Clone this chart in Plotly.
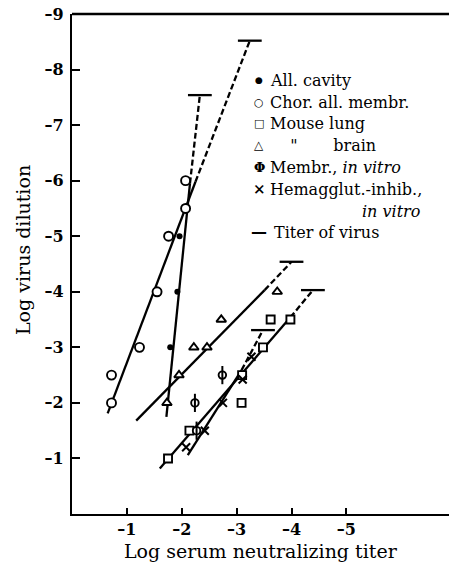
import plotly.graph_objects as go

# ---------------- data ----------------
all_cavity_x = [-1.79, -1.92, -1.96]
all_cavity_y = [-3.0, -4.0, -5.0]

chor_x = [-0.72, -0.72, -1.23, -1.55, -1.76, -2.07, -2.07]
chor_y = [-2.5, -2.0, -3.0, -4.0, -5.0, -5.5, -6.0]

lung_x = [-1.75, -2.14, -3.09, -3.10, -3.48, -3.62, -3.98]
lung_y = [-1.0, -1.5, -2.0, -2.5, -3.0, -3.5, -3.5]

brain_x = [-1.73, -1.95, -2.22, -2.46, -2.72, -3.74]
brain_y = [-2.0, -2.5, -3.0, -3.0, -3.5, -4.0]

membr_x = [-2.27, -2.24, -2.74]
membr_y = [-1.5, -2.0, -2.5]

hemag_x = [-2.08, -2.42, -2.75, -3.11, -3.27]
hemag_y = [-1.2, -1.5, -2.0, -2.42, -2.83]

# fitted lines (solid) and extrapolations (dashed) to the virus titer
chor_fit_x = [-0.65, -2.25]
chor_fit_y = [-1.81, -5.98]
chor_ext_x = [-2.25, -3.24]
chor_ext_y = [-5.98, -8.52]

cav_fit_x = [-1.72, -2.15]
cav_fit_y = [-1.75, -5.95]
cav_ext_x = [-2.15, -2.33]
cav_ext_y = [-5.95, -7.54]

brain_fit_x = [-1.17, -3.51]
brain_fit_y = [-1.68, -4.03]
brain_ext_x = [-3.51, -4.00]
brain_ext_y = [-4.03, -4.54]

lung_fit_x = [-1.60, -3.98]
lung_fit_y = [-0.82, -3.54]
lung_ext_x = [-3.98, -4.39]
lung_ext_y = [-3.54, -4.03]

hemag_fit_x = [-2.11, -3.09]
hemag_fit_y = [-1.06, -2.59]
hemag_ext_x = [-3.09, -3.48]
hemag_ext_y = [-2.59, -3.31]

titer_x = [-3.24, -2.33, -4.00, -4.39, -3.48]
titer_y = [-8.52, -7.54, -4.54, -4.03, -3.31]

x_tick_vals = [-1, -2, -3, -4, -5]
x_tick_text = ["\u20131", "\u20132", "\u20133", "\u20134", "\u20135"]
y_tick_vals = [-1, -2, -3, -4, -5, -6, -7, -8, -9]
y_tick_text = ["\u20131", "\u20132", "\u20133", "\u20134", "\u20135",
               "\u20136", "\u20137", "\u20138", "\u20139"]

legend_symbols = ["\u25cf", "\u25cb", "\u25a1", "\u25b3", "\u03a6", "\u00d7", "", "\u2014"]
legend_labels = ["All. cavity", "Chor. all. membr.", "Mouse lung",
                 "\u00a0\u00a0\u00a0\u00a0\"\u00a0\u00a0\u00a0\u00a0\u00a0\u00a0\u00a0brain",
                 "Membr., <i>in vitro</i>", "Hemagglut.-inhib.,",
                 "<i>in vitro</i>", "Titer of virus"]

# ---------------- figure ----------------
W, H = 449, 567
L, R, T, B = 72, 0, 14, 53
FONT = "DejaVu Serif"
BLACK = "#000000"

fig = go.Figure()

def line(xs, ys, dash):
    fig.add_trace(go.Scatter(x=xs, y=ys, mode="lines",
                             line=dict(color=BLACK, width=2.3, dash=dash),
                             showlegend=False, hoverinfo="skip"))

for xs, ys in [(chor_fit_x, chor_fit_y), (cav_fit_x, cav_fit_y),
               (brain_fit_x, brain_fit_y), (lung_fit_x, lung_fit_y),
               (hemag_fit_x, hemag_fit_y)]:
    line(xs, ys, "solid")
for xs, ys in [(chor_ext_x, chor_ext_y), (cav_ext_x, cav_ext_y),
               (brain_ext_x, brain_ext_y), (lung_ext_x, lung_ext_y),
               (hemag_ext_x, hemag_ext_y)]:
    line(xs, ys, "6px,3px")

def hollow(xs, ys, symbol, size, lw=1.9):
    fig.add_trace(go.Scatter(
        x=xs, y=ys, mode="markers",
        marker=dict(symbol=symbol, size=size, color="white",
                    line=dict(color=BLACK, width=lw)),
        showlegend=False))

def stroke(xs, ys, symbol, size, lw=2):
    fig.add_trace(go.Scatter(
        x=xs, y=ys, mode="markers",
        marker=dict(symbol=symbol, size=size, color=BLACK,
                    line=dict(color=BLACK, width=lw)),
        showlegend=False))

fig.add_trace(go.Scatter(x=all_cavity_x, y=all_cavity_y, mode="markers",
                         marker=dict(symbol="circle", size=6, color=BLACK),
                         showlegend=False))
hollow(chor_x, chor_y, "circle", 9)
hollow(lung_x, lung_y, "square", 8)
hollow(brain_x, brain_y, "triangle-up", 8.5)
hollow(membr_x, membr_y, "circle", 7.5)
stroke(membr_x, membr_y, "line-ns-open", 13)
stroke(hemag_x, hemag_y, "x-thin-open", 8, lw=2)
stroke(titer_x, titer_y, "line-ew-open", 17, lw=2.3)

def px2x(px):
    return (px - L) / (W - L - R)

def py2y(py):
    return (H - B - py) / (H - T - B)

# legend built from text
row_y = [80, 102, 123.5, 145, 167, 189, 211, 233]
sym_sizes = [9, 11, 11, 12, 13, 15, 12, 16]
for i, (s, lab) in enumerate(zip(legend_symbols, legend_labels)):
    if s:
        fig.add_annotation(x=px2x(259), y=py2y(row_y[i]), xref="paper", yref="paper",
                           text=s, showarrow=False, xanchor="center", yanchor="middle",
                           font=dict(family=FONT, size=sym_sizes[i], color=BLACK,
                                     weight="bold"))
    tx = 268 if i != 6 else 360
    if i == 7:
        tx = 272
    fig.add_annotation(x=px2x(tx), y=py2y(row_y[i]), xref="paper", yref="paper",
                       text=lab, showarrow=False, xanchor="left", yanchor="middle",
                       font=dict(family=FONT, size=16, color=BLACK))

# axis titles
fig.add_annotation(x=0.5, y=py2y(551), xref="paper", yref="paper",
                   text="Log serum neutralizing titer", showarrow=False,
                   xanchor="center", yanchor="middle",
                   font=dict(family=FONT, size=19, color=BLACK))
fig.add_annotation(x=px2x(23), y=py2y(250), xref="paper", yref="paper",
                   text="Log virus dilution", showarrow=False, textangle=-90,
                   xanchor="center", yanchor="middle",
                   font=dict(family=FONT, size=19, color=BLACK))

# top frame line
fig.add_shape(type="line", xref="paper", yref="paper", x0=0, x1=1, y0=1, y1=1,
              line=dict(color=BLACK, width=2.3))

fig.update_layout(
    width=W, height=H,
    margin=dict(l=L, r=R, t=T, b=B),
    paper_bgcolor="white", plot_bgcolor="white",
    showlegend=False,
    xaxis=dict(range=[0, -6.87], showline=True, linecolor=BLACK, linewidth=2.3,
               ticks="inside", ticklen=6, tickwidth=2, tickcolor=BLACK,
               tickvals=x_tick_vals, ticktext=x_tick_text,
               showgrid=False, zeroline=False,
               tickfont=dict(family=FONT, size=16, color=BLACK, weight="bold")),
    yaxis=dict(range=[0, -9], showline=True, linecolor=BLACK, linewidth=2.3,
               ticks="inside", ticklen=8, tickwidth=2, tickcolor=BLACK,
               tickvals=y_tick_vals, ticktext=y_tick_text,
               showgrid=False, zeroline=False, ticklabelstandoff=3,
               tickfont=dict(family=FONT, size=16, color=BLACK, weight="bold")),
)

fig.write_html("out.html")
